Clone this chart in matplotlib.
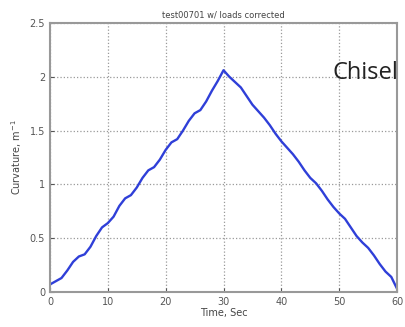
"""Curvature vs time chart, MATLAB-style look."""

import matplotlib
matplotlib.use("Agg")
import matplotlib.pyplot as plt

# Data
time_sec = list(range(0, 61))
curvature = [
    0.07, 0.10, 0.13, 0.20, 0.28, 0.33, 0.35, 0.42, 0.52, 0.60,
    0.64, 0.70, 0.80, 0.87, 0.90, 0.97, 1.06, 1.13, 1.16, 1.23,
    1.32, 1.39, 1.42, 1.50, 1.59, 1.66, 1.69, 1.77, 1.87, 1.96,
    2.06,
    2.00, 1.95, 1.90, 1.82, 1.74, 1.68, 1.62, 1.55, 1.47, 1.40,
    1.34, 1.28, 1.21, 1.13, 1.06, 1.01, 0.94, 0.86, 0.79, 0.73,
    0.68, 0.60, 0.52, 0.46, 0.41, 0.34, 0.26, 0.19, 0.14, 0.03,
]
x_ticks = [0, 10, 20, 30, 40, 50, 60]
y_ticks = [0, 0.5, 1, 1.5, 2, 2.5]
y_tick_labels = ["0", "0.5", "1", "1.5", "2", "2.5"]

fig = plt.figure(figsize=(4.06, 3.27), dpi=100)
ax = fig.add_axes([0.123, 0.107, 0.855, 0.823])

ax.plot(time_sec, curvature, color="#2f3fd8", linewidth=1.7)

ax.set_xlim(0, 60)
ax.set_ylim(0, 2.5)
ax.set_xticks(x_ticks)
ax.set_yticks(y_ticks)
ax.set_yticklabels(y_tick_labels)
ax.tick_params(labelsize=7, colors="#555555", length=3, direction="in")
ax.grid(True, linestyle=":", color="#999999", linewidth=0.9)

for spine in ax.spines.values():
    spine.set_color("#999999")
    spine.set_linewidth(1.5)

ax.set_title("test00701 w/ loads corrected", fontsize=6, color="#444444", pad=4)
ax.set_xlabel("Time, Sec", fontsize=7, color="#444444", labelpad=1)
ax.set_ylabel("Curvature, m$^{-1}$", fontsize=7, color="#444444", labelpad=4)

ax.text(1.005, 0.815, "Chisel", transform=ax.transAxes, ha="right", va="center",
        fontsize=17, family="Open Sans", color="#222222")

fig.savefig("out.png", dpi=100)
plt.close(fig)
